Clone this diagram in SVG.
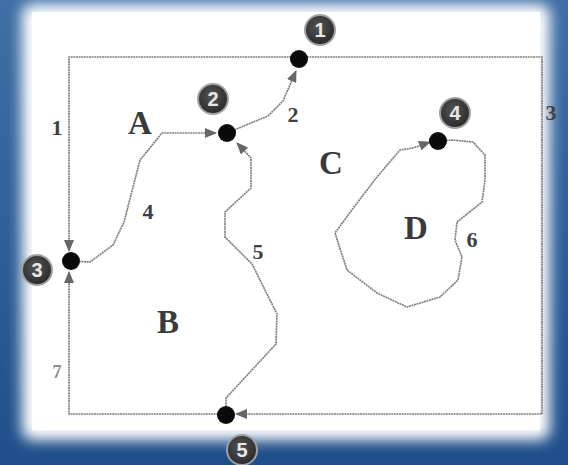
<svg xmlns="http://www.w3.org/2000/svg" width="568" height="465" viewBox="0 0 568 465">
<defs>
<filter id="soft" x="-10%" y="-10%" width="120%" height="120%"><feGaussianBlur stdDeviation="7"/></filter>
<linearGradient id="bg" x1="0" y1="0" x2="0" y2="1"><stop offset="0" stop-color="#3f6fa6"/><stop offset="1" stop-color="#1f4f8a"/></linearGradient>
<marker id="arr" markerWidth="12" markerHeight="10" refX="11" refY="5" orient="auto" markerUnits="userSpaceOnUse"><path d="M0,0 L12,5 L0,10 Z" fill="#666"/></marker>
<radialGradient id="badge" cx="0.45" cy="0.4" r="0.6"><stop offset="0" stop-color="#555"/><stop offset="1" stop-color="#2a2a2a"/></radialGradient>
</defs>
<style>
.edge{fill:none;stroke:#808080;stroke-width:1.7;stroke-dasharray:2 0.6}
.frame{fill:none;stroke:#6e6e6e;stroke-width:2.2;stroke-dasharray:2 0.6}
.dot{fill:#0a0a0a}
.bdg{fill:url(#badge);stroke:#a0a0a0;stroke-width:2}
.bnum{font-family:"Liberation Sans",Arial,sans-serif;font-weight:bold;font-size:20px;fill:#e8e8e8;text-anchor:middle}
.reg{font-family:"Liberation Serif","Times New Roman",serif;font-weight:bold;font-size:33px;fill:#3a3a3a;text-anchor:middle}
.elab{font-family:"Liberation Serif","Times New Roman",serif;font-weight:bold;font-size:22px;fill:#3f3f3f;text-anchor:middle}
</style>
<rect x="0" y="0" width="568" height="465" fill="url(#bg)"/>
<rect x="22" y="4" width="528" height="436" rx="10" fill="#ffffff" filter="url(#soft)"/>
<rect x="32" y="12" width="508" height="418" fill="#ffffff"/>

<g id="connectors">
<path id="e1" class="edge" d="M299,57 H69 V251" marker-end="url(#arr)"/>
<path id="e3" class="edge" d="M299,57 H542 V414 H236" marker-end="url(#arr)"/>
<path id="e7" class="edge" d="M226,414 H69 V272" marker-end="url(#arr)"/>
<path id="e2" class="edge" d="M227,133 L268,116 L283,101 L296,71" marker-end="url(#arr)"/>
<path id="e4" class="edge" d="M71,261 L90,262 L113,245 L124,222 L140,160 L162,133 L216,133" marker-end="url(#arr)"/>
<path id="e5" class="edge" d="M226,412 L226,398 L276,344 L277,314 L252,264 L225,237 L225,212 L251,188 L251,158 L237,143" marker-end="url(#arr)"/>
<path id="e6" class="edge" d="M438,141 L452,140 L473,142 L485,155 L485,180 L482,202 L457,222 L455,240 L462,257 L458,280 L440,297 L407,307 L377,293 L347,270 L335,233 L357,203 L377,177 L400,150 L413,148 L430,142" marker-end="url(#arr)"/>
</g>

<g id="labels">
<text class="reg" x="140" y="134">A</text>
<text class="reg" x="168" y="333">B</text>
<text class="reg" x="331" y="174">C</text>
<text class="reg" x="416" y="239">D</text>
<text class="elab" x="57" y="135">1</text>
<text class="elab" x="293" y="122">2</text>
<text class="elab" x="551" y="120">3</text>
<text class="elab" x="148" y="219">4</text>
<text class="elab" x="258" y="259">5</text>
<text class="elab" x="472" y="247">6</text>
<text class="elab" x="57" y="378" style="fill:#8a8a8a;font-size:18px">7</text>
</g>

<g id="node1"><circle class="dot" cx="299" cy="59" r="9"/><circle class="bdg" cx="320" cy="30" r="15"/><text class="bnum" x="320" y="37">1</text></g>
<g id="node2"><circle class="dot" cx="227" cy="133" r="9"/><circle class="bdg" cx="213" cy="99" r="15"/><text class="bnum" x="213" y="106">2</text></g>
<g id="node3"><circle class="dot" cx="71" cy="261" r="9"/><circle class="bdg" cx="37" cy="270" r="15"/><text class="bnum" x="37" y="277">3</text></g>
<g id="node4"><circle class="dot" cx="438" cy="141" r="9"/><circle class="bdg" cx="455" cy="113" r="15"/><text class="bnum" x="455" y="120">4</text></g>
<g id="node5"><circle class="dot" cx="226" cy="415" r="9"/><circle class="bdg" cx="242" cy="450" r="15"/><text class="bnum" x="242" y="457">5</text></g>
</svg>
